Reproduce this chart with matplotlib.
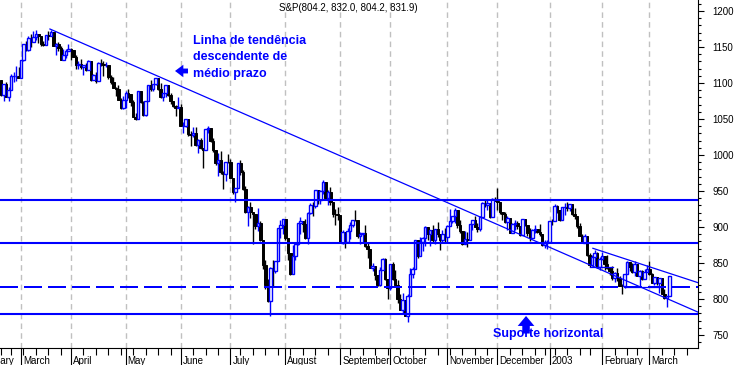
import numpy as np
import pandas as pd
import matplotlib
matplotlib.use('Agg')
import matplotlib.pyplot as plt
from matplotlib import transforms

# dados diarios S&P 500 (19 fev 2002 - 13 mar 2003)
first_day = '2002-02-19'
holidays = ['2002-02-18', '2002-03-29', '2002-05-27', '2002-07-04', '2002-09-02',
            '2002-11-28', '2002-12-25', '2003-01-01', '2003-01-20', '2003-02-17']

opens = [
    1104.2, 1083.3, 1098.0, 1081.0, 1089.8, 1109.4, 1109.4, 1109.9,  # fev
    1106.7, 1131.8, 1153.8, 1146.1, 1162.8, 1157.5, 1164.3, 1168.3, 1165.6, 1154.1,
    1153.0, 1166.2, 1165.6, 1170.3, 1151.9, 1153.6, 1148.7, 1131.9, 1138.5, 1144.6,  # mar
    1147.4, 1146.5, 1136.8, 1125.4, 1126.3, 1122.7, 1125.3, 1117.8, 1130.5, 1103.7, 1111.0,
    1102.6, 1128.4, 1126.1, 1124.5, 1125.2, 1107.8, 1101.0, 1093.1, 1091.5, 1076.3, 1065.5,  # abr
    1076.9, 1086.5, 1084.6, 1073.4, 1052.7, 1049.5, 1088.9, 1073.0, 1055.0, 1074.6, 1097.3,
    1091.1, 1098.2, 1106.6, 1091.9, 1079.9, 1086.0, 1097.1, 1083.8, 1074.6, 1067.7, 1064.7,  # mai
    1067.1, 1040.7, 1040.7, 1049.9, 1029.2, 1027.5, 1030.7, 1013.6, 1020.3, 1009.6,
    1007.3, 1036.2, 1037.1, 1020.0, 1006.3, 989.1, 992.7, 976.1, 973.5, 990.6,  # jun
    989.8, 968.7, 948.1, 954.0, 989.0, 977.0, 952.8, 920.5, 927.4, 921.4, 917.9,
    900.9, 906.0, 881.6, 847.8, 819.9, 797.7, 843.4, 838.7, 852.8, 899.0, 902.8,  # jul
    911.6, 884.7, 864.2, 834.6, 859.6, 876.8, 905.5, 908.6, 903.8, 884.2, 919.6,
    930.3, 928.8, 950.7, 937.4, 949.4, 962.7, 940.9, 948.0, 934.8, 917.9, 917.8,  # ago
    916.1, 878.0, 893.4, 879.2, 893.9, 903.0, 909.6, 909.5, 886.9, 889.8,
    891.1, 873.5, 869.5, 843.3, 845.4, 833.7, 819.3, 839.7, 855.0, 827.4,  # set
    815.3, 847.9, 827.9, 819.0, 800.6, 785.3, 798.6, 776.8, 803.9, 835.3, 841.4, 881.3,
    860.0, 879.2, 884.4, 899.7, 890.2, 896.1, 882.5, 897.7, 890.2, 882.2, 890.7,  # out
    885.8, 901.0, 908.4, 915.4, 923.8, 902.7, 894.7, 876.2, 883.0, 882.5,
    904.3, 909.8, 900.4, 896.7, 914.2, 933.8, 930.6, 932.9, 913.3, 938.9,  # nov
    936.3, 934.5, 920.8, 917.6, 906.6, 912.2, 892.0, 904.5, 905.0, 901.6, 889.5,
    910.4, 903.0, 891.1, 884.3, 895.8, 897.4, 892.5, 889.7, 875.4, 879.4,  # dez
    879.8, 909.0, 908.6, 929.0, 922.9, 909.9, 927.6, 927.6, 926.3, 931.7, 918.2,
    914.6, 901.8, 887.6, 878.4, 887.3, 861.4, 847.5, 858.5, 864.4, 844.6,  # jan 2003
    855.7, 860.3, 848.2, 843.6, 838.2, 829.7, 836.0, 829.2, 818.7, 817.4,
    834.9, 851.2, 845.1, 837.1, 848.2, 832.6, 838.6, 827.6, 837.3,  # fev
    841.2, 834.8, 822.0, 829.9, 822.1, 828.9, 807.5, 800.7, 804.2,  # mar
]
highs = [
    1104.2, 1098.3, 1101.5, 1093.9, 1112.6, 1115.1, 1123.1, 1121.6,
    1131.8, 1154.0, 1157.7, 1165.3, 1167.9, 1172.8, 1173.0, 1168.3, 1165.6, 1157.8,
    1166.5, 1172.7, 1173.9, 1170.3, 1155.1, 1156.5, 1151.0, 1147.0, 1146.9, 1154.4,
    1148.0, 1146.5, 1138.9, 1130.5, 1133.3, 1125.4, 1128.3, 1131.8, 1130.5, 1112.8, 1114.9,
    1129.4, 1133.0, 1130.5, 1128.8, 1125.2, 1111.2, 1108.5, 1094.4, 1096.8, 1078.9, 1082.6,
    1088.3, 1091.4, 1084.6, 1075.9, 1058.7, 1088.9, 1088.9, 1075.4, 1074.8, 1097.7, 1104.2,
    1099.3, 1106.6, 1106.6, 1099.6, 1086.0, 1097.1, 1097.1, 1085.9, 1074.8, 1069.5, 1079.9,
    1070.7, 1046.1, 1050.1, 1049.9, 1033.0, 1038.2, 1039.0, 1021.9, 1023.5, 1009.6,
    1036.2, 1040.8, 1037.6, 1023.1, 1006.3, 1002.1, 1005.9, 977.4, 990.7, 1001.8,
    994.5, 968.7, 954.3, 989.1, 993.6, 979.6, 956.3, 929.2, 934.9, 921.4, 918.7,
    926.5, 907.8, 881.6, 854.1, 827.7, 844.3, 853.8, 852.9, 898.9, 909.8, 911.6,
    911.6, 884.7, 864.2, 874.4, 878.7, 905.8, 913.9, 908.6, 911.7, 920.2, 933.3,
    935.4, 951.2, 950.7, 951.8, 965.0, 962.7, 950.8, 955.2, 934.8, 924.6, 928.2,
    916.1, 896.1, 893.4, 899.1, 907.3, 909.9, 924.0, 909.5, 892.8, 892.0,
    902.7, 878.5, 869.5, 849.3, 845.4, 833.7, 844.2, 856.6, 856.3, 827.4,
    847.9, 851.9, 840.0, 825.9, 806.4, 808.9, 798.6, 806.5, 843.3, 844.4, 881.3, 881.3,
    885.4, 886.7, 900.7, 899.7, 896.1, 902.9, 897.7, 907.4, 890.6, 895.3, 898.8,
    903.4, 924.6, 915.8, 925.7, 923.8, 910.1, 894.7, 894.3, 892.5, 904.3,
    910.1, 915.9, 905.5, 915.0, 935.1, 937.2, 937.2, 932.9, 940.4, 941.8,
    954.3, 934.5, 921.5, 921.5, 915.5, 912.2, 904.9, 909.9, 908.4, 901.6, 910.4,
    910.4, 903.0, 899.2, 897.8, 902.4, 897.4, 903.9, 890.5, 882.1, 881.9,
    909.0, 911.3, 931.8, 930.8, 922.9, 928.3, 932.9, 935.1, 931.7, 932.6, 926.0,
    914.6, 906.0, 889.7, 890.3, 887.3, 863.9, 860.8, 868.7, 865.5, 858.3,
    864.6, 860.3, 861.6, 844.2, 845.3, 837.2, 843.0, 832.1, 821.3, 834.9,
    852.9, 851.2, 849.4, 852.3, 848.2, 839.6, 840.1, 842.2, 847.0,
    852.3, 835.4, 829.9, 829.9, 829.0, 828.9, 814.3, 804.2, 832.0,
]
lows = [
    1082.2, 1074.4, 1080.2, 1074.4, 1089.8, 1101.0, 1102.3, 1106.7,
    1106.7, 1130.9, 1144.8, 1145.1, 1150.7, 1157.5, 1159.6, 1155.1, 1151.0, 1151.1,
    1153.0, 1159.1, 1165.6, 1151.6, 1139.5, 1144.6, 1131.9, 1131.6, 1135.3, 1144.6,
    1132.0, 1135.7, 1119.7, 1120.1, 1120.1, 1111.8, 1116.0, 1117.8, 1102.4, 1103.7, 1099.4,
    1102.6, 1123.4, 1109.3, 1122.6, 1105.6, 1098.9, 1092.5, 1081.7, 1076.3, 1063.6, 1063.5,
    1065.3, 1079.5, 1068.6, 1052.7, 1048.0, 1049.5, 1072.2, 1053.9, 1053.9, 1074.6, 1088.9,
    1089.2, 1096.8, 1090.6, 1079.1, 1075.6, 1080.6, 1082.2, 1070.3, 1067.0, 1054.3, 1064.7,
    1039.9, 1030.5, 1038.8, 1026.9, 1012.5, 1025.5, 1012.9, 1002.6, 1008.1, 981.6,
    1007.3, 1030.9, 1017.9, 1004.6, 985.7, 970.9, 974.2, 952.9, 963.7, 988.3,
    967.4, 945.5, 934.9, 954.0, 972.9, 951.7, 920.1, 900.9, 913.0, 876.5, 897.1,
    895.0, 880.6, 842.1, 813.3, 796.1, 775.7, 816.1, 835.9, 852.8, 884.7, 889.9,
    882.5, 853.9, 833.4, 834.6, 854.1, 875.2, 890.8, 892.4, 883.6, 876.2, 918.2,
    915.4, 927.0, 931.9, 931.3, 946.4, 937.2, 930.4, 930.4, 913.2, 903.3, 910.2,
    877.5, 875.7, 870.5, 879.2, 882.9, 900.5, 908.5, 884.8, 877.0, 878.9,
    872.4, 857.4, 843.1, 839.1, 825.8, 817.4, 818.5, 839.7, 826.3, 800.2,
    812.8, 826.1, 817.3, 794.1, 784.8, 779.5, 775.8, 768.6, 803.9, 828.9, 841.4, 856.3,
    860.0, 866.6, 873.1, 882.4, 873.8, 879.2, 877.0, 886.2, 867.9, 879.2, 879.8,
    877.7, 900.9, 904.9, 905.0, 898.7, 891.6, 874.6, 876.2, 872.1, 882.5,
    895.4, 899.5, 893.1, 894.9, 914.2, 928.4, 923.3, 912.1, 913.3, 935.6,
    924.1, 918.7, 909.2, 905.9, 895.9, 891.9, 892.0, 896.5, 897.5, 887.8, 889.5,
    901.2, 887.2, 880.3, 884.3, 892.3, 892.3, 887.5, 873.6, 870.2, 869.5,
    879.8, 903.1, 908.6, 919.9, 908.3, 909.9, 917.0, 922.0, 921.7, 916.7, 911.0,
    899.0, 887.6, 877.6, 878.4, 859.7, 844.3, 847.5, 845.9, 843.7, 840.3,
    855.7, 840.2, 842.1, 833.1, 826.7, 823.5, 825.1, 818.5, 806.3, 815.0,
    834.9, 838.8, 836.6, 831.5, 832.2, 818.5, 826.7, 827.6, 837.3,
    832.7, 821.9, 819.0, 819.0, 807.7, 806.6, 800.3, 788.9, 804.2,
]
closes = [
    1083.3, 1098.0, 1081.0, 1089.8, 1109.4, 1109.4, 1109.9, 1106.7,
    1131.8, 1153.8, 1146.1, 1162.8, 1157.5, 1164.3, 1168.3, 1165.6, 1154.1, 1153.0,
    1166.2, 1165.6, 1170.3, 1151.9, 1153.6, 1148.7, 1131.9, 1138.5, 1144.6, 1147.4,
    1146.5, 1136.8, 1125.4, 1126.3, 1122.7, 1125.3, 1117.8, 1130.5, 1103.7, 1111.0, 1102.6,
    1128.4, 1126.1, 1124.5, 1125.2, 1107.8, 1101.0, 1093.1, 1091.5, 1076.3, 1065.5, 1076.9,
    1086.5, 1084.6, 1073.4, 1052.7, 1049.5, 1088.9, 1073.0, 1055.0, 1074.6, 1097.3, 1091.1,
    1098.2, 1106.6, 1091.9, 1079.9, 1086.0, 1097.1, 1083.8, 1074.6, 1067.7, 1064.7, 1067.1,
    1040.7, 1040.7, 1049.9, 1029.2, 1027.5, 1030.7, 1013.6, 1020.3, 1009.6, 1007.3,
    1036.2, 1037.1, 1020.0, 1006.3, 989.1, 992.7, 976.1, 973.5, 990.6, 989.8,
    968.7, 948.1, 954.0, 989.0, 977.0, 952.8, 920.5, 927.4, 921.4, 917.9, 900.9,
    906.0, 881.6, 847.8, 819.9, 797.7, 843.4, 838.7, 852.8, 899.0, 902.8, 911.6,
    884.7, 864.2, 834.6, 859.6, 876.8, 905.5, 908.6, 903.8, 884.2, 919.6, 930.3,
    928.8, 950.7, 937.4, 949.4, 962.7, 940.9, 948.0, 934.8, 917.9, 917.8, 916.1,
    878.0, 893.4, 879.2, 893.9, 903.0, 909.6, 909.5, 886.9, 889.8, 891.1,
    873.5, 869.5, 843.3, 845.4, 833.7, 819.3, 839.7, 855.0, 827.4, 815.3,
    847.9, 827.9, 819.0, 800.6, 785.3, 798.6, 776.8, 803.9, 835.3, 841.4, 881.3, 860.0,
    879.2, 884.4, 899.7, 890.2, 896.1, 882.5, 897.7, 890.2, 882.2, 890.7, 885.8,
    901.0, 908.4, 915.4, 923.8, 902.7, 894.7, 876.2, 883.0, 882.5, 904.3,
    909.8, 900.4, 896.7, 914.2, 933.8, 930.6, 932.9, 913.3, 938.9, 936.3,
    934.5, 920.8, 917.6, 906.6, 912.2, 892.0, 904.5, 905.0, 901.6, 889.5, 910.4,
    903.0, 891.1, 884.3, 895.8, 897.4, 892.5, 889.7, 875.4, 879.4, 879.8,
    909.0, 908.6, 929.0, 922.9, 909.9, 927.6, 927.6, 926.3, 931.7, 918.2, 914.6,
    901.8, 887.6, 878.4, 887.3, 861.4, 847.5, 858.5, 864.4, 844.6, 855.7,
    860.3, 848.2, 843.6, 838.2, 829.7, 836.0, 829.2, 818.7, 817.4, 834.9,
    851.2, 845.1, 837.1, 848.2, 832.6, 838.6, 827.6, 837.3, 841.2,
    834.8, 822.0, 829.9, 822.1, 828.9, 807.5, 800.7, 804.2, 831.9,
]

# linhas desenhadas (posicao em dias de pregao, preco)
h_levels = [937.5, 878.0, 779.2]
dashed_level = 816.3
trend_x = [30.6, 291.2]
trend_y = [1175.0, 780.6]
channel_x = [248.3, 291.2]
channel_y = [870.4, 821.8]
box_lines = [(247.1, 256.4, 845.0), (261.2, 276.0, 816.3)]

title = 'S&P(804.2, 832.0, 804.2, 831.9)'

# calendario de pregoes
cal = pd.bdate_range('2002-02-01', '2003-03-31')
cal = cal[~cal.isin(pd.to_datetime(holidays))]
start = cal.get_loc(pd.Timestamp(first_day))
x = np.arange(start, start + len(closes))
o = np.array(opens); h = np.array(highs); l = np.array(lows); c = np.array(closes)

month_pos = [i for i in range(len(cal)) if i == 0 or cal[i].month != cal[i - 1].month]
month_lab = [str(cal[i].year) if cal[i].month == 1 else cal[i].strftime('%B') for i in month_pos]
week_pos = [i for i in range(1, len(cal)) if cal[i].isocalendar()[1] != cal[i - 1].isocalendar()[1]]
mar1 = month_pos[1]

BLUE = '#0000ff'
fig = plt.figure(figsize=(7.38, 3.65), dpi=100)
ax = fig.add_axes([0, 17 / 365, 698 / 738, 348 / 365])

# grade vertical tracejada nos meses
for p in month_pos:
    ax.axvline(p, color='#c0c0c0', lw=1, ls=(0, (4, 3)), zorder=0)

up = c >= o
# pavios
ax.vlines(x[~up], l[~up], h[~up], color='black', lw=1, zorder=2)
ax.vlines(x[up], l[up], h[up], color=BLUE, lw=1, zorder=2)
# corpos
ax.bar(x[~up], c[~up] - o[~up], bottom=o[~up], width=1.0, color='black',
       edgecolor='black', lw=0.7, zorder=3)
ax.bar(x[up], c[up] - o[up], bottom=o[up], width=1.0, color='white',
       edgecolor=BLUE, lw=1.0, zorder=3)

for lev in h_levels:
    ax.axhline(lev, color=BLUE, lw=1.5, zorder=4)
ax.axhline(dashed_level, color=BLUE, lw=1.44, ls=(0, (9, 3)), zorder=4)
ax.plot(trend_x, trend_y, color=BLUE, lw=0.9, zorder=4)
ax.plot(channel_x, channel_y, color=BLUE, lw=0.9, zorder=4)
for x0, x1, lev in box_lines:
    ax.plot([x0, x1], [lev, lev], color=BLUE, lw=0.9, zorder=4)

# eixos
for s in ['left', 'top']:
    ax.spines[s].set_visible(False)
ax.spines['right'].set_linewidth(0.8)
ax.spines['bottom'].set_linewidth(0.8)
ax.yaxis.tick_right()
ax.set_yticks(np.arange(750, 1201, 50))
ax.set_yticks(np.arange(740, 1211, 10), minor=True)
ax.tick_params(axis='y', which='major', length=4.5, width=0.8, pad=6, labelsize=7,
               labelfontfamily='Liberation Sans')
ax.tick_params(axis='y', which='minor', length=2.5, width=0.8)
ax.set_xticks(month_pos)
ax.set_xticks(week_pos, minor=True)
ax.tick_params(axis='x', which='major', length=14, width=0.8, labelbottom=False)
ax.tick_params(axis='x', which='minor', length=5, width=0.8)

# limites depois dos ticks (set_xticks expande a vista)
ax.set_xlim(mar1 - 8.42, mar1 + 271.45)
ax.set_ylim(731.9, 1215.3)

lab_tr = transforms.offset_copy(ax.get_xaxis_transform(), fig=fig, x=2, y=-8, units='dots')
for p, t in zip(month_pos, month_lab):
    ax.text(p, 0, t, transform=lab_tr, ha='left', va='top', fontsize=7,
            family='Liberation Sans', clip_on=False)

ax.text(279 / 698, 1 - 8 / 348, title, transform=ax.transAxes, ha='left', va='center',
        fontsize=7, family='Liberation Sans')

# anotacoes
txt = dict(color=BLUE, fontsize=9, fontweight='bold', family='Liberation Sans',
           va='baseline', ha='left', zorder=6)
ax.text(87.97, 1154.2, 'Linha de tendência', **txt)
ax.text(87.97, 1131.5, 'descendente de', **txt)
ax.text(87.97, 1108.7, 'médio prazo', **txt)
ax.annotate('', xy=(80.75, 1116.7), xytext=(85.96, 1116.7),
            arrowprops=dict(arrowstyle='simple,head_length=0.6,head_width=0.9,tail_width=0.35',
                            color=BLUE, lw=0, mutation_scale=10, shrinkA=0, shrinkB=0))
ax.text(208.25, 747.2, 'Suporte horizontal', **txt)
ax.annotate('', xy=(221.5, 776.4), xytext=(221.5, 752.0),
            arrowprops=dict(arrowstyle='simple,head_length=0.6,head_width=1.0,tail_width=0.45',
                            color=BLUE, lw=0, mutation_scale=12, shrinkA=0, shrinkB=0))

fig.savefig('out.png', dpi=100)
